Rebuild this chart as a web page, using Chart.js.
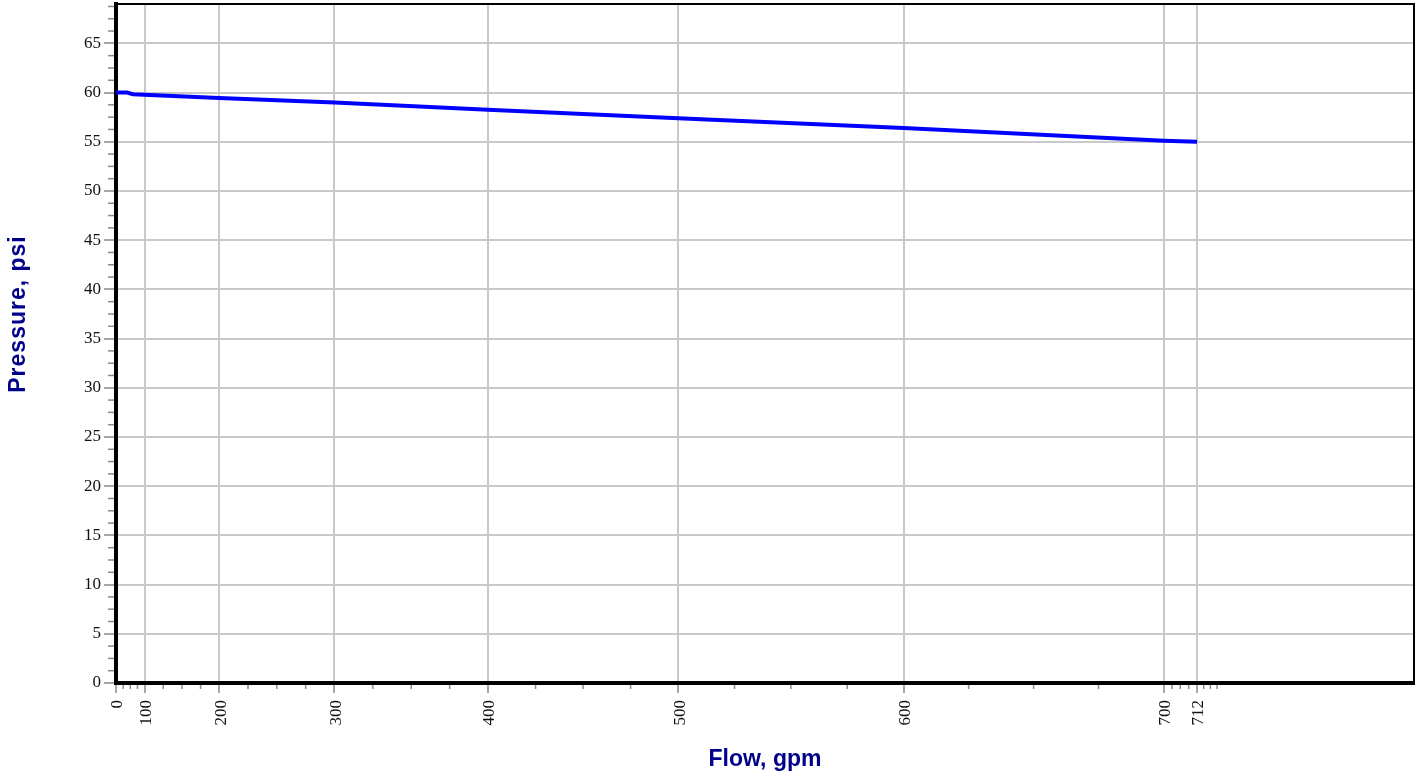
<!DOCTYPE html>
<html>
<head>
<meta charset="utf-8">
<title>Flow vs Pressure</title>
<script src="https://cdn.jsdelivr.net/npm/chart.js@4.4.1/dist/chart.umd.min.js"></script>
<style>
  html, body { margin: 0; padding: 0; background: #ffffff; overflow: hidden; }
  #wrap { position: relative; width: 1422px; height: 778px; }
</style>
</head>
<body>
<div id="wrap"><canvas id="chart" width="1422" height="778"></canvas></div>
<script>
// Supply curve: flow (gpm) against residual pressure (psi)
const FLOW_GPM     = [0, 60, 75, 200, 300, 400, 500, 600, 700, 712];
const PRESSURE_PSI = [60.0, 60.0, 59.83, 59.45, 59.0, 58.25, 57.4, 56.4, 55.1, 55.0];

// Axis ticks
const FLOW_TICKS     = [0, 100, 200, 300, 400, 500, 600, 700, 712];
const PRESSURE_TICKS = [0, 5, 10, 15, 20, 25, 30, 35, 40, 45, 50, 55, 60, 65];

const FLOW_MAX = 786;
const PRESSURE_MAX = 69;
const FLOW_EXPONENT = 1.85;   // N^1.85 hydraulic graph paper

// Flow axis spaced by Q^1.85
class PowerScale extends Chart.LinearScale {
  _ends() {
    return [Math.pow(this.min, FLOW_EXPONENT), Math.pow(this.max, FLOW_EXPONENT)];
  }
  getPixelForValue(value) {
    if (value === null || value === undefined || isNaN(value)) return NaN;
    const [a, b] = this._ends();
    return this.getPixelForDecimal((Math.pow(Math.max(value, 0), FLOW_EXPONENT) - a) / (b - a));
  }
  getValueForPixel(pixel) {
    const [a, b] = this._ends();
    return Math.pow(a + this.getDecimalForPixel(pixel) * (b - a), 1 / FLOW_EXPONENT);
  }
}
PowerScale.id = 'power';
PowerScale.defaults = {};
Chart.register(PowerScale);

const TICK_GREY = '#8a8a8a';
const GRID_GREY = '#c9c9c9';
const TITLE_BLUE = '#00008a';

// Minor ticks, the outer frame and the axis titles
const framePlugin = {
  id: 'frame',
  afterDraw(chart) {
    const { ctx, chartArea: a, scales: { x, y } } = chart;
    ctx.save();

    // minor ticks: three between each pair of labelled ticks
    ctx.strokeStyle = TICK_GREY;
    ctx.lineWidth = 1.5;
    const vline = px => { ctx.beginPath(); ctx.moveTo(px, a.bottom + 2); ctx.lineTo(px, a.bottom + 6); ctx.stroke(); };
    const hline = py => { if (py < a.top) return; ctx.beginPath(); ctx.moveTo(a.left - 8, py); ctx.lineTo(a.left - 2, py); ctx.stroke(); };
    const quarters = (p0, p1, cb) => { for (let q = 1; q < 4; q++) cb(p0 + (p1 - p0) * q / 4); };

    const xp = x.ticks.map((t, i) => x.getPixelForTick(i));
    for (let i = 0; i < xp.length - 1; i++) quarters(xp[i], xp[i + 1], vline);
    const xl = xp[xp.length - 1], xpr = xp[xp.length - 2];
    quarters(xl, xl + (xl - xpr) * 0.8, vline);

    const yp = y.ticks.map((t, i) => y.getPixelForTick(i));
    for (let i = 0; i < yp.length - 1; i++) quarters(yp[i], yp[i + 1], hline);
    const yl = yp[yp.length - 1], ypr = yp[yp.length - 2];
    quarters(yl, yl + (yl - ypr), hline);

    // top and right frame
    ctx.strokeStyle = '#000000';
    ctx.lineWidth = 2;
    ctx.beginPath();
    ctx.moveTo(a.left, a.top);
    ctx.lineTo(a.right, a.top);
    ctx.lineTo(a.right, a.bottom + 2);
    ctx.stroke();

    // axis titles
    ctx.fillStyle = TITLE_BLUE;
    ctx.font = 'bold 23px "Liberation Sans", Arial, sans-serif';
    ctx.textAlign = 'center';
    ctx.textBaseline = 'middle';
    ctx.fillText('Flow, gpm', (a.left + a.right) / 2, 760);
    ctx.translate(19, 314);
    ctx.rotate(-Math.PI / 2);
    ctx.letterSpacing = '1px';
    ctx.fillText('Pressure, psi', 0, 0);
    ctx.restore();
  }
};

const tickFont = { family: '"Liberation Serif", "Times New Roman", serif', size: 17 };

new Chart(document.getElementById('chart'), {
  type: 'line',
  data: {
    datasets: [{
      data: FLOW_GPM.map((q, i) => ({ x: q, y: PRESSURE_PSI[i] })),
      borderColor: '#0000ff',
      borderWidth: 4,
      pointRadius: 0,
      tension: 0,
      fill: false
    }]
  },
  options: {
    responsive: false,
    devicePixelRatio: 1,
    animation: false,
    layout: { padding: { left: 0, top: 4, right: 8, bottom: 0 } },
    plugins: { legend: { display: false }, tooltip: { enabled: false } },
    scales: {
      x: {
        type: 'power',
        min: 0,
        max: FLOW_MAX,
        afterBuildTicks: s => { s.ticks = FLOW_TICKS.map(v => ({ value: v })); },
        afterFit: s => { s.height = 95; s.paddingLeft = 0; s.paddingRight = 0; },
        ticks: {
          autoSkip: false,
          minRotation: 90,
          maxRotation: 90,
          padding: 7,
          labelOffset: 2,
          color: '#111111',
          font: tickFont,
          callback: v => String(v)
        },
        grid: {
          color: GRID_GREY,
          lineWidth: 2,
          tickLength: 10,
          tickColor: TICK_GREY,
          tickWidth: 1.5
        },
        border: { display: true, color: '#000000', width: 4 }
      },
      y: {
        type: 'linear',
        min: 0,
        max: PRESSURE_MAX,
        afterBuildTicks: s => { s.ticks = PRESSURE_TICKS.map(v => ({ value: v })); },
        afterFit: s => { s.width = 116; s.paddingTop = 0; s.paddingBottom = 0; },
        ticks: {
          padding: 3,
          color: '#111111',
          font: tickFont,
          callback: v => String(v)
        },
        grid: {
          color: GRID_GREY,
          lineWidth: 2,
          tickLength: 12,
          tickColor: TICK_GREY,
          tickWidth: 1.5
        },
        border: { display: true, color: '#000000', width: 4 }
      }
    }
  },
  plugins: [framePlugin]
});
</script>
</body>
</html>
